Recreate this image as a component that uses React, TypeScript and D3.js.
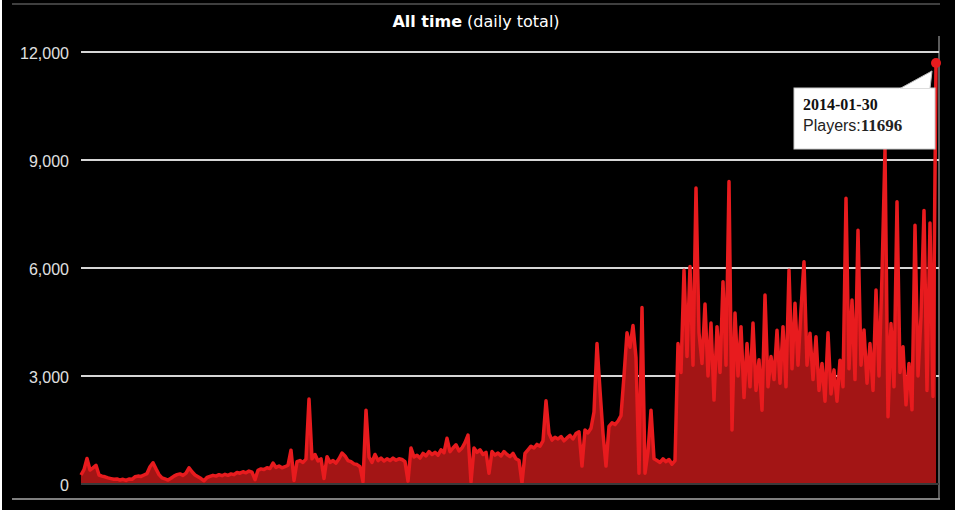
import * as d3 from "d3";

// daily players, sampled evenly across the full history (last point = 2014-01-30)
const players: number[] = [
  250, 400, 710, 390, 450, 520, 250, 220, 200, 170,
  150, 130, 140, 110, 130, 100, 140, 130, 200, 220,
  210, 250, 290, 480, 590, 420, 260, 170, 140, 110,
  160, 220, 260, 280, 240, 300, 450, 340, 250, 200,
  150, 90, 180, 210, 240, 220, 260, 230, 270, 240,
  280, 260, 320, 300, 340, 310, 360, 330, 120, 380,
  420, 400, 450, 430, 580, 460, 500, 450, 480, 520,
  940, 100, 620, 650, 600, 690, 2360, 700, 820, 640,
  700, 150, 760, 600, 650, 580, 700, 860, 780, 650,
  620, 560, 540, 480, 60, 2050, 750, 600, 820, 650,
  720, 640, 700, 650, 720, 660, 700, 680, 620, 80,
  1000, 750, 800, 720, 850, 780, 900, 820, 880, 800,
  950, 870, 1270, 900, 1000, 1090, 920, 1000, 1150, 1360,
  50, 1000, 880, 950, 820, 880, 300, 900, 800, 860,
  780, 900, 820, 760, 850, 700, 650, 30, 850, 950,
  1050, 1000, 1100, 1050, 1200, 2310, 1400, 1220, 1300, 1250,
  1320, 1200, 1280, 1350, 1250, 1400, 1450, 500, 1500, 1420,
  1550, 2000, 3900, 2600, 1400, 500, 1600, 1700, 1650, 1750,
  1900, 3000, 4200, 3800, 4400, 3500, 300, 4900, 300, 900,
  2050, 700, 650, 600, 700, 620, 680, 550, 650, 3900,
  3100, 5940, 3540, 6040, 3300, 8220, 4200, 3350, 5000, 3000,
  4470, 2330, 4370, 3100, 5620, 3300, 8400, 1500, 4750, 3000,
  4370, 2400, 3900, 2700, 4470, 2600, 3450, 2050, 5250, 2700,
  3540, 2900, 4270, 2800, 4370, 2700, 5940, 3200, 5020, 3300,
  4830, 6175, 3300, 4190, 2900, 4090, 2600, 3350, 2300, 4200,
  2500, 3170, 2300, 3440, 2700, 7935, 3200, 5110, 2900, 7050,
  3300, 4280, 2800, 3900, 2600, 5390, 3000, 5800, 9300, 1870,
  4460, 2700, 7840, 3100, 3810, 2200, 3350, 2060, 7190, 3000,
  4650, 7600, 2600, 7250, 2430, 11696,
];

const yTicks = [0, 3000, 6000, 9000, 12000];
const lastDate = "2014-01-30";

const W = 958;
const H = 513;

export default function App() {
  const x = d3.scaleLinear().domain([0, players.length - 1]).range([81, 936]);
  const y = d3.scaleLinear().domain([0, 12000]).range([484, 52]);

  const area = d3
    .area<number>()
    .x((_, i) => x(i))
    .y0(y(0))
    .y1((d) => y(d));
  const line = d3
    .line<number>()
    .x((_, i) => x(i))
    .y((d) => y(d));

  const lastI = players.length - 1;
  const px = x(lastI);
  const py = y(players[lastI]);
  const fmt = d3.format(",");

  return (
    <div style={{ position: "absolute", left: 0, top: 0 }}>
      <svg width={W} height={H} style={{ display: "block", background: "#fff" }}>
        <rect x={2} y={0} width={953} height={510} fill="#000" />
        <line x1={12} x2={940} y1={4} y2={4} stroke="#555" strokeWidth={1.5} />
        <line x1={12} x2={940} y1={499} y2={499} stroke="#aaa" strokeWidth={1.5} />
        <line x1={939} x2={939} y1={36} y2={499} stroke="#999" strokeWidth={1.2} />

        <text
          x={476}
          y={27}
          textAnchor="middle"
          fill="#fff"
          fontFamily="DejaVu Sans, Verdana, sans-serif"
          fontSize={16}
        >
          <tspan fontWeight="bold">All time</tspan> (daily total)
        </text>

        {yTicks.map((t) => (
          <g key={t}>
            {t > 0 && (
              <line x1={81} x2={939} y1={y(t)} y2={y(t)} stroke="#d6d6d6" strokeWidth={2} />
            )}
            <text
              x={69}
              y={y(t) + 7}
              textAnchor="end"
              fill="#e0e0e0"
              fontFamily="Liberation Sans, Arial, sans-serif"
              fontSize={16}
            >
              {fmt(t)}
            </text>
          </g>
        ))}

        <path d={area(players) ?? ""} fill="#a31515" />
        <path
          d={line(players) ?? ""}
          fill="none"
          stroke="#e81b1e"
          strokeWidth={3.5}
          strokeLinejoin="round"
        />
        <line x1={81} x2={939} y1={y(0)} y2={y(0)} stroke="#3a3a3a" strokeWidth={2} />

        <circle cx={px} cy={py} r={5} fill="#e81b1e" />

        <g>
          <rect x={794} y={88} width={141} height={61} fill="#fff" stroke="#ccc" strokeWidth={1} />
          <polygon points={`900,88.5 930,88.5 ${px - 4},${py + 8}`} fill="#fff" stroke="#bbb" strokeWidth={1} />
          <rect x={899} y={88.5} width={32} height={3} fill="#fff" />
          <text
            x={803}
            y={110}
            fill="#111"
            fontFamily="Liberation Serif, Times New Roman, serif"
            fontWeight="bold"
            fontSize={16}
          >
            {lastDate}
          </text>
          <text x={803} y={131} fill="#222" fontFamily="Liberation Sans, Arial, sans-serif" fontSize={16}>
            Players:
            <tspan fontFamily="Liberation Serif, Times New Roman, serif" fontWeight="bold" fontSize={17}>
              {players[lastI]}
            </tspan>
          </text>
        </g>
      </svg>
    </div>
  );
}
